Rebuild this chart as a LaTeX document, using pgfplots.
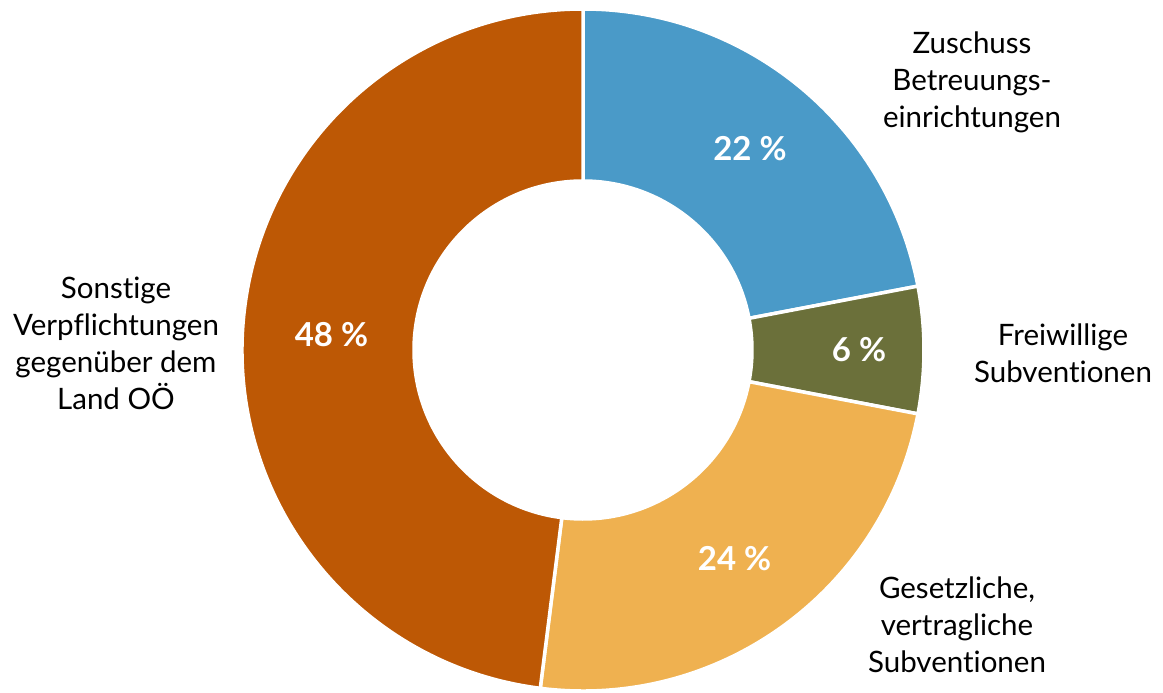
\documentclass[border=0pt]{standalone}
\usepackage{fontspec}
\setmainfont{Lato}[Ligatures=NoCommon]
\usepackage{pgfplots}
\pgfplotsset{compat=1.18}
\usepackage{pgfplotstable}

\definecolor{cBlue}{HTML}{4A9AC8}
\definecolor{cOlive}{HTML}{6B703A}
\definecolor{cYellow}{HTML}{EFB150}
\definecolor{cBrown}{HTML}{BD5805}

% share in percent, slice colour, radius of the percent label (px)
\pgfplotstableread{
share col rlab
22 cBlue 262
6 cOlive 276
24 cYellow 258
48 cBrown 252
}\slices

\newcommand\labfont{\fontsize{29.5}{37}\selectfont}
\newcommand\pctfont{\fontsize{33}{36}\selectfont\bfseries}

\begin{document}
\begin{tikzpicture}
\begin{axis}[
  x=1pt, y=1pt, scale only axis, hide axis,
  xmin=0, xmax=1163, ymin=0, ymax=693,
  clip=true,
]
\path (axis cs:0,0) rectangle (axis cs:1163,693);
\def\cx{583}\def\cy{343}\def\Ro{341}\def\Ri{169}
\gdef\cum{0}
\pgfplotsinvokeforeach{0,...,3}{
  \pgfplotstablegetelem{#1}{share}\of\slices \let\sh\pgfplotsretval
  \pgfplotstablegetelem{#1}{col}\of\slices \let\co\pgfplotsretval
  \pgfplotstablegetelem{#1}{rlab}\of\slices \let\rl\pgfplotsretval
  \pgfmathsetmacro\angA{90-3.6*\cum}
  \pgfmathsetmacro\angB{90-3.6*(\cum+\sh)}
  \pgfmathsetmacro\angM{(\angA+\angB)/2}
  \pgfmathsetmacro\xo{\cx+\Ro*cos(\angA)}
  \pgfmathsetmacro\yo{\cy+\Ro*sin(\angA)}
  \pgfmathsetmacro\xi{\cx+\Ri*cos(\angB)}
  \pgfmathsetmacro\yi{\cy+\Ri*sin(\angB)}
  \pgfmathsetmacro\xl{\cx+\rl*cos(\angM)}
  \pgfmathsetmacro\yl{\cy+\rl*sin(\angM)}
  \edef\doslice{%
    \noexpand\filldraw[fill=\co, draw=white, line width=3.5pt]
      (axis cs:\xo,\yo) arc[start angle=\angA, end angle=\angB, radius=\Ro pt]
      -- (axis cs:\xi,\yi) arc[start angle=\angB, end angle=\angA, radius=\Ri pt]
      -- cycle;
    \noexpand\node[text=white, font=\noexpand\pctfont] at (axis cs:\xl,\yl)
      {\sh\noexpand\ \noexpand\%};
  }\doslice
  \pgfmathsetmacro\newcum{\cum+\sh}
  \xdef\cum{\newcum}
}

\node[align=center, font=\labfont] at (axis cs:972,611)
  {Zuschuss\\Betreuungs-\\einrichtungen};
\node[align=center, font=\labfont] at (axis cs:1063,340)
  {Freiwillige\\Subventionen};
\node[align=center, font=\labfont] at (axis cs:957,68)
  {Gesetzliche,\\vertragliche\\Subventionen};
\node[align=center, font=\labfont] at (axis cs:116,350)
  {Sonstige\\Verpflichtungen\\gegenüber dem\\Land OÖ};
\end{axis}
\end{tikzpicture}
\end{document}
